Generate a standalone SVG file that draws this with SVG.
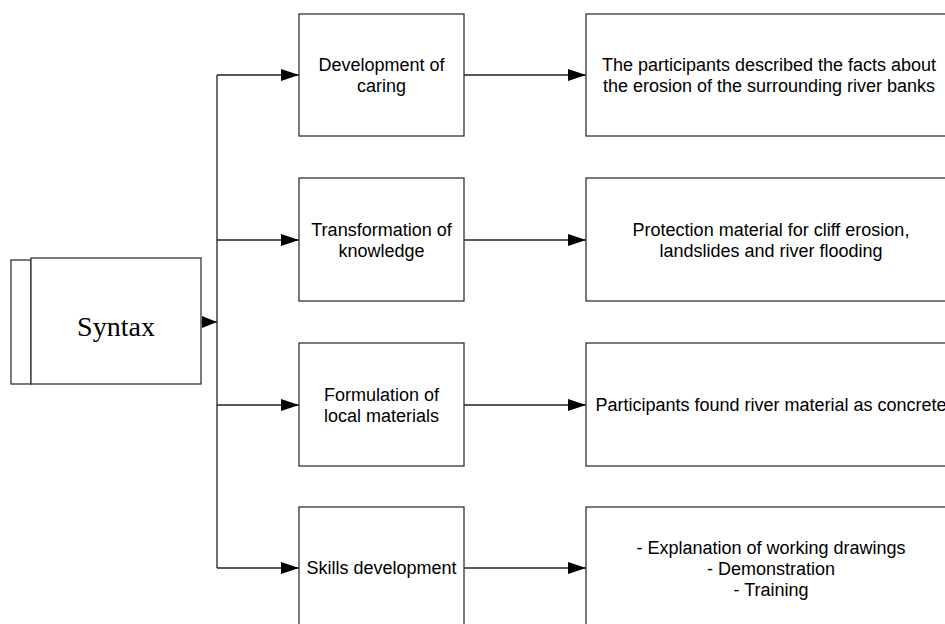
<svg xmlns="http://www.w3.org/2000/svg" width="945" height="624" viewBox="0 0 945 624">
<defs>
<marker id="arr" markerWidth="18" markerHeight="12" refX="18" refY="6" orient="auto" markerUnits="userSpaceOnUse">
<path d="M0,0 L18,6 L0,12 Z" fill="#000"/>
</marker>
<marker id="arrS" markerWidth="15" markerHeight="12" refX="15" refY="6" orient="auto" markerUnits="userSpaceOnUse">
<path d="M0,0 L15,6 L0,12 Z" fill="#000"/>
</marker>
<style>
.box{fill:#fff;stroke:#333;stroke-width:1.3}
.ln{fill:none;stroke:#222;stroke-width:1.3}
.t{font-family:"Liberation Sans",Arial,sans-serif;font-size:18px;fill:#000;text-anchor:middle}
.ts{font-family:"Liberation Serif","Times New Roman",serif;font-size:28px;fill:#000;text-anchor:middle}
</style>
</defs>
<rect width="945" height="624" fill="#fff"/>
<g id="connectors">
<path class="ln" d="M217,75 L217,568"/>
<path class="ln" d="M201,322 L217,322" marker-end="url(#arrS)"/>
<path class="ln" d="M217,75 L299,75" marker-end="url(#arr)"/>
<path class="ln" d="M217,240 L299,240" marker-end="url(#arr)"/>
<path class="ln" d="M217,405 L299,405" marker-end="url(#arr)"/>
<path class="ln" d="M217,568 L299,568" marker-end="url(#arr)"/>
<path class="ln" d="M464,75 L586,75" marker-end="url(#arr)"/>
<path class="ln" d="M464,240 L586,240" marker-end="url(#arr)"/>
<path class="ln" d="M464,405 L586,405" marker-end="url(#arr)"/>
<path class="ln" d="M464,568 L586,568" marker-end="url(#arr)"/>
</g>
<g id="syntax">
<rect class="box" x="11" y="260" width="20" height="124"/>
<rect class="box" x="31" y="258" width="170" height="126"/>
<text class="ts" x="116" y="336">Syntax</text>
</g>
<g id="dev-caring">
<rect class="box" x="299" y="14" width="165" height="122"/>
<text class="t" x="381.5" y="71">Development of</text>
<text class="t" x="381.5" y="92">caring</text>
</g>
<g id="transformation">
<rect class="box" x="299" y="178" width="165" height="123"/>
<text class="t" x="381.5" y="236">Transformation of</text>
<text class="t" x="381.5" y="257">knowledge</text>
</g>
<g id="formulation">
<rect class="box" x="299" y="343" width="165" height="123"/>
<text class="t" x="381.5" y="401">Formulation of</text>
<text class="t" x="381.5" y="422">local materials</text>
</g>
<g id="skills">
<rect class="box" x="299" y="507" width="165" height="125"/>
<text class="t" x="381.5" y="574">Skills development</text>
</g>
<g id="facts">
<rect class="box" x="586" y="14" width="370" height="122"/>
<text class="t" x="769" y="71">The participants described the facts about</text>
<text class="t" x="769" y="92">the erosion of the surrounding river banks</text>
</g>
<g id="protection">
<rect class="box" x="586" y="178" width="370" height="123"/>
<text class="t" x="771" y="236">Protection material for cliff erosion,</text>
<text class="t" x="771" y="257">landslides and river flooding</text>
</g>
<g id="concrete">
<rect class="box" x="586" y="343" width="370" height="123"/>
<text class="t" x="771" y="411">Participants found river material as concrete</text>
</g>
<g id="explanation">
<rect class="box" x="586" y="507" width="370" height="125"/>
<text class="t" x="771" y="554">- Explanation of working drawings</text>
<text class="t" x="771" y="575">- Demonstration</text>
<text class="t" x="771" y="596">- Training</text>
</g>
</svg>
